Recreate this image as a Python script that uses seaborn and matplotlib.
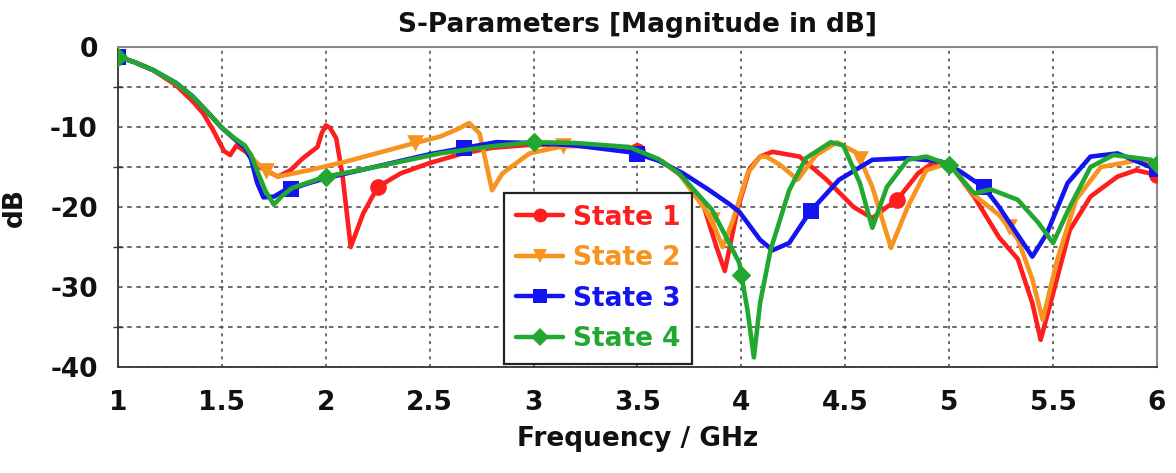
import numpy as np
import pandas as pd
import matplotlib
matplotlib.use("Agg")
import matplotlib.pyplot as plt
from matplotlib.lines import Line2D
from matplotlib.ticker import MultipleLocator
import seaborn as sns

# ---------------- data ----------------
f1 = [1.0, 1.08, 1.17, 1.28, 1.36, 1.41, 1.46, 1.51, 1.54, 1.57, 1.62, 1.68, 1.77, 1.83, 1.89,
      1.96, 1.98, 2.0, 2.02, 2.05, 2.08, 2.12, 2.18, 2.25, 2.36, 2.5, 2.66, 2.8, 3.0, 3.3, 3.5, 3.62, 3.72,
      3.82, 3.88, 3.92, 3.96, 3.98, 4.04, 4.09, 4.15, 4.28, 4.41, 4.54, 4.63, 4.70, 4.75, 4.85,
      4.92, 5.0, 5.12, 5.24, 5.33, 5.40, 5.44, 5.50, 5.58, 5.68, 5.81, 5.90, 6.0]
s1 = [-1.2, -1.9, -2.9, -4.8, -6.8, -8.3, -10.5, -13.0, -13.5, -12.3, -13.2, -15.0, -16.2, -15.4, -13.9,
      -12.5, -10.8, -9.8, -10.1, -11.4, -16.0, -25.0, -20.8, -17.5, -15.8, -14.5, -13.3, -12.6, -12.2, -12.4, -13.0, -14.3, -16.3,
      -20.0, -25.0, -28.0, -23.0, -20.4, -15.2, -13.7, -13.1, -13.7, -16.6, -20.0, -21.4, -20.0, -19.1, -15.8,
      -14.5, -14.5, -18.7, -23.8, -26.5, -32.0, -36.6, -30.8, -22.9, -18.7, -16.2, -15.4, -16.0]

f2 = [1.0, 1.08, 1.17, 1.28, 1.36, 1.44, 1.50, 1.56, 1.61, 1.66, 1.72, 1.77, 1.92, 2.1, 2.4,
      2.55, 2.64, 2.69, 2.74, 2.80, 2.85, 2.98, 3.14, 3.3, 3.46, 3.6, 3.70, 3.85, 3.91, 3.96,
      4.03, 4.09, 4.12, 4.19, 4.27, 4.36, 4.46, 4.56, 4.63, 4.72, 4.80, 4.89, 5.0, 5.12, 5.24,
      5.33, 5.40, 5.45, 5.52, 5.61, 5.73, 5.92, 6.0]
s2 = [-1.2, -1.9, -2.9, -4.6, -6.2, -8.4, -10.1, -11.4, -12.6, -14.3, -15.6, -16.2, -15.4, -14.3, -12.2,
      -11.2, -10.2, -9.5, -10.8, -17.9, -15.8, -13.3, -12.4, -12.4, -12.8, -14.0, -15.8, -21.2, -25.0, -21.6,
      -15.8, -13.7, -13.7, -14.8, -16.6, -13.5, -11.9, -13.3, -17.5, -25.1, -20.0, -15.4, -14.5, -18.5, -21.0,
      -24.0, -29.0, -34.1, -26.6, -19.1, -15.0, -14.1, -15.0]

f3 = [1.0, 1.08, 1.17, 1.28, 1.36, 1.44, 1.50, 1.56, 1.61, 1.64, 1.67, 1.70, 1.75, 1.81, 1.84,
      1.92, 2.0, 2.3, 2.5, 2.67, 2.82, 3.0, 3.2, 3.48, 3.6, 3.72, 3.84, 3.94, 3.99, 4.09,
      4.15, 4.23, 4.33, 4.47, 4.63, 4.80, 4.96, 5.05, 5.17, 5.24, 5.33, 5.40, 5.47, 5.57,
      5.68, 5.81, 5.95, 6.0]
s3 = [-1.2, -1.9, -2.9, -4.5, -6.2, -8.4, -10.1, -11.5, -12.6, -14.0, -17.0, -18.8, -18.7, -17.8, -17.7,
      -17.0, -16.4, -14.6, -13.4, -12.6, -11.9, -12.0, -12.3, -13.2, -14.2, -15.8, -17.8, -19.6, -20.6, -24.1,
      -25.4, -24.5, -20.6, -16.6, -14.1, -13.9, -14.3, -15.5, -17.6, -20.0, -23.5, -26.2, -23.3, -17.0,
      -13.7, -13.3, -14.8, -15.3]

f4 = [1.0, 1.08, 1.17, 1.28, 1.36, 1.44, 1.50, 1.56, 1.61, 1.64, 1.67, 1.71, 1.75, 1.79, 1.84,
      1.92, 2.0, 2.2, 2.55, 2.8, 3.0, 3.2, 3.46, 3.6, 3.70, 3.86, 3.99, 4.03, 4.06, 4.09,
      4.14, 4.23, 4.31, 4.43, 4.49, 4.57, 4.63, 4.70, 4.80, 4.89, 5.0, 5.12, 5.2, 5.33, 5.43,
      5.50, 5.58, 5.68, 5.79, 5.97, 6.0]
s4 = [-1.2, -1.9, -2.9, -4.5, -6.2, -8.4, -10.1, -11.4, -12.3, -13.5, -15.5, -18.0, -19.7, -18.6, -17.6,
      -16.9, -16.2, -15.2, -13.3, -12.4, -11.9, -12.0, -12.5, -14.0, -15.8, -20.4, -27.0, -33.0, -38.8, -32.0,
      -25.4, -17.9, -13.9, -11.9, -12.3, -17.0, -22.6, -17.5, -14.1, -13.7, -14.7, -18.3, -17.8, -19.1, -22.0,
      -24.5, -20.0, -15.0, -13.5, -14.1, -14.6]

states = ["State 1", "State 2", "State 3", "State 4"]
freqs = [f1, f2, f3, f4]
vals = [s1, s2, s3, s4]
colors = ["#FF1E1E", "#F7931E", "#1414F0", "#22A830"]
markers = ["o", "v", "s", "D"]
marker_sizes = [12, 12, 11, 10]
# marker frequencies (markers sit on the curves)
mk_freqs = [
    [1.0, 2.25, 3.5, 4.75, 6.0],
    [1.0, 1.714, 2.429, 3.143, 3.857, 4.571, 5.286, 6.0],
    [1.0, 1.833, 2.667, 3.5, 4.333, 5.167, 6.0],
    [1.0, 2.0, 3.0, 4.0, 5.0, 6.0],
]
xticks = [1, 1.5, 2, 2.5, 3, 3.5, 4, 4.5, 5, 5.5, 6]
xticklabels = ["1", "1.5", "2", "2.5", "3", "3.5", "4", "4.5", "5", "5.5", "6"]
yticks = [0, -10, -20, -30, -40]

# ---------------- figure ----------------
sns.set_theme(style="white")
plt.rcParams["font.family"] = ["DejaVu Sans"]
plt.rcParams["font.weight"] = "bold"
plt.rcParams["axes.unicode_minus"] = False
plt.rcParams["text.color"] = "#111111"
plt.rcParams["axes.labelcolor"] = "#111111"
plt.rcParams["xtick.labelcolor"] = "#111111"
plt.rcParams["ytick.labelcolor"] = "#111111"

fig = plt.figure(figsize=(11.76, 4.73), dpi=100)
ax = fig.add_axes([118 / 1176, 1 - 367 / 473, (1157 - 118) / 1176, (367 - 47) / 473])

for i, st in enumerate(states):
    df = pd.DataFrame({"Frequency": freqs[i], "dB": vals[i]})
    sns.lineplot(data=df, x="Frequency", y="dB", color=colors[i], lw=3.3,
                 ax=ax, zorder=3 + i, sort=False, solid_joinstyle="round",
                 solid_capstyle="round")
    mdf = pd.DataFrame({"Frequency": mk_freqs[i],
                        "dB": np.interp(mk_freqs[i], freqs[i], vals[i])})
    sns.scatterplot(data=mdf, x="Frequency", y="dB", color=colors[i],
                    marker=markers[i], s=marker_sizes[i] ** 2, edgecolor=colors[i],
                    linewidth=0, ax=ax, zorder=3.5 + i, legend=False)

ax.set_xlim(1, 6)
ax.set_ylim(-40, 0)
ax.set_xticks(xticks)
ax.set_xticklabels(xticklabels)
ax.set_yticks(yticks)
ax.yaxis.set_minor_locator(MultipleLocator(5))

ax.grid(True, which="major", axis="x", color="#444444", linestyle=(0, (2, 3)), lw=1.1)
ax.grid(True, which="both", axis="y", color="#444444", linestyle=(0, (3, 3)), lw=1.1)
ax.set_axisbelow(True)

for side in ["top", "right"]:
    ax.spines[side].set_color("#8a8a8a")
    ax.spines[side].set_linewidth(1.5)
for side in ["left", "bottom"]:
    ax.spines[side].set_color("#333333")
    ax.spines[side].set_linewidth(1.3)

ax.tick_params(axis="both", which="major", direction="inout", length=9, width=1.2,
               color="#333333", labelsize=19, labelcolor="#111111")
ax.tick_params(axis="x", which="major", pad=12)
ax.tick_params(axis="y", which="minor", direction="inout", length=7, width=1.0,
               color="#333333", left=True)
ax.tick_params(axis="y", which="major", pad=10)
for lab in ax.get_xticklabels() + ax.get_yticklabels():
    lab.set_fontweight("bold")

ax.set_title("S-Parameters [Magnitude in dB]", fontsize=19, fontweight="bold", pad=11,
             color="#111111")
ax.set_xlabel("Frequency / GHz", fontsize=19, fontweight="bold", labelpad=7, color="#111111")
ax.set_ylabel("dB", fontsize=19, fontweight="bold", color="#111111")
ax.yaxis.set_label_coords(-0.087, 0.5)

handles = [Line2D([0], [0], color=colors[i], lw=3.2, marker=markers[i],
                  markersize=[10, 10, 10, 9][i], markeredgewidth=0)
           for i in range(4)]
leg = ax.legend(handles, states, loc="lower left", bbox_to_anchor=(0.3715, 0.009),
                borderaxespad=0, handlelength=1.8, handletextpad=0.35,
                labelspacing=0.55, borderpad=0.45, fancybox=False, framealpha=1,
                edgecolor="#222222", prop={"weight": "bold", "size": 19})
leg.get_frame().set_linewidth(1.6)
leg.set_zorder(20)
for txt, c in zip(leg.get_texts(), colors):
    txt.set_color(c)

fig.savefig("out.png", dpi=100)
